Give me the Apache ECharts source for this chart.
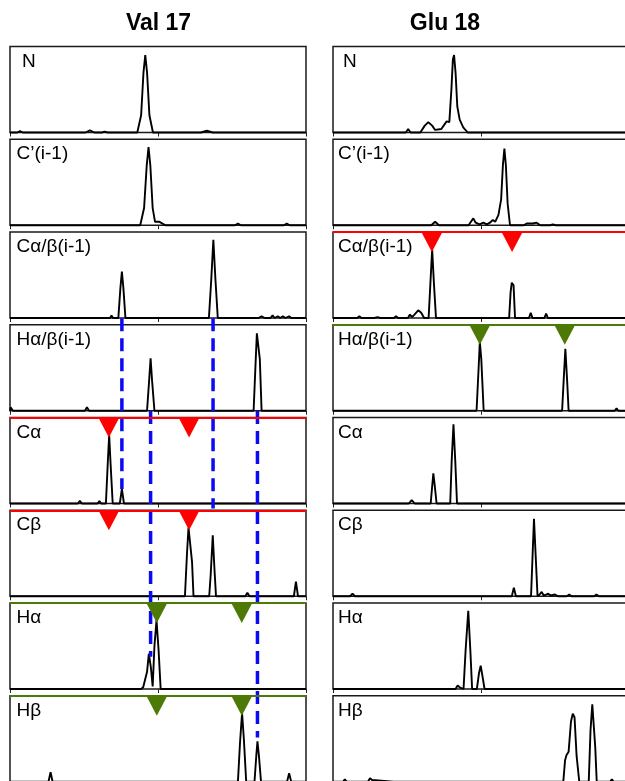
<!DOCTYPE html>
<html><head><meta charset="utf-8">
<script src="https://cdn.jsdelivr.net/npm/echarts@6/dist/echarts.min.js"></script>
<style>html,body{margin:0;padding:0;background:#fff}#c{width:625px;height:781px}</style>
</head><body><div id="c"></div>
<script>
// ---------- data ----------
const columnTitles = ['Val 17', 'Glu 18'];
const panelLabels = ['N', 'C\u2019(i-1)', 'C\u03b1/\u03b2(i-1)', 'H\u03b1/\u03b2(i-1)', 'C\u03b1', 'C\u03b2', 'H\u03b1', 'H\u03b2'];

// Val 17 strips  [shift (0-100), intensity (0-100)]
const valN = [[0,0],[2.5,0],[3.4,1.5],[4.3,0],[10,0],[10.5,1],[11,0],[17.5,0],[18,1],[18.5,0],[25.5,0],[27,2.5],[28.5,0],[31,0],[32,1],[33,0],[35.5,0],[36,1],[36.5,0],[43,0],[44.3,20],[45.1,70],[45.7,90],[46.3,70],[47.1,20],[48.3,0],[64.5,0],[66.5,2],[68.5,0],[76,0],[76.5,1],[77,0],[100,0]];
const valC1 = [[0,0],[44,0],[45.3,20],[46.2,70],[46.8,91],[47.4,70],[48.2,20],[49,4],[50.5,4],[52.5,0],[64.5,0],[65,1],[65.5,0],[76,0],[77,2],[78,0],[85.5,0],[86,1],[86.5,0],[92.5,0],[93.5,2],[94.5,0],[100,0]];
const valCab = [[0,0],[19,0],[19.6,1],[20.2,0],[33.8,0],[34.3,3],[34.8,0],[36.6,0],[37.3,35],[37.8,54],[38.3,35],[39,0],[56.3,0],[56.8,2],[57.3,0],[67.2,0],[68,45],[68.7,91],[69.4,45],[70.2,0],[72.5,0],[73,2],[73.5,0],[84,0],[85,2],[86,0],[88,0],[88.7,3],[89.4,0],[90.5,2],[91.3,0],[92.2,2],[93,0],[94.3,2],[95,0],[100,0]];
const valHab = [[0,0],[0.2,4],[1,0],[9.6,0],[10.1,2],[10.6,0],[25.3,0],[26,4],[26.7,0],[46.3,0],[47,35],[47.5,61],[48,35],[48.8,0],[82.3,0],[82.9,50],[83.4,90],[83.8,91],[84.4,60],[85,0],[100,0]];
const valCa = [[0,0],[22.9,0],[23.6,3],[24.3,0],[26.4,0],[27,2],[27.6,0],[29.6,0],[30.2,3],[30.8,0],[32.4,0],[33,45],[33.5,80],[34,45],[34.7,0],[37.1,0],[37.8,17],[38.5,0],[100,0]];
const valCb = [[0,0],[59.1,0],[59.8,50],[60.3,80],[60.8,78],[61.5,40],[62,0],[67.3,0],[67.8,25],[68.5,71],[69.1,30],[69.6,0],[79.5,0],[80.2,4],[80.9,0],[95.9,0],[96.6,17],[97.3,0],[100,0]];
const valHa = [[0,0],[44.3,0],[45,2],[45.6,1],[46.3,20],[46.9,41],[47.6,25],[48.2,3],[48.8,50],[49.5,80],[50.2,45],[50.9,0],[100,0]];
const valHb = [[0,0],[13,0],[13.7,11],[14.4,0],[77,0],[77.7,45],[78.4,80],[79,50],[79.8,0],[82.6,0],[83.2,30],[83.6,47],[84.1,30],[84.8,0],[93.6,0],[94.3,10],[95,0],[100,0]];

// Glu 18 strips
const gluN = [[0,0],[24.6,0],[25.4,4],[26.2,0],[29.5,0],[31,8],[32.2,12],[33.5,8],[34.5,3],[36.6,4],[37.8,10],[38.4,13],[39.3,12],[40,50],[40.5,85],[40.9,90],[41.4,70],[42,30],[42.8,15],[44,6],[45.5,0],[55,0],[55.5,2],[56,0],[100,0]];
const gluC1 = [[0,0],[33.2,0],[34.5,4],[35.8,0],[45.8,0],[46.6,4],[47.4,8],[48.2,3],[49.5,1],[50.8,3],[52,1],[53,3],[54,6],[54.8,4],[55.9,12],[56.8,30],[57.4,70],[57.9,89],[58.4,70],[59,25],[59.8,0],[64.5,0],[65.4,2],[66.5,2],[67.5,2],[68.8,3],[70,0],[73.4,0],[74.3,1],[75.2,0],[100,0]];
const gluCab = [[0,0],[8.2,0],[8.9,2],[9.6,0],[14,0],[15,1],[16,0],[20.6,0],[21.3,2],[22,0],[25.3,0],[26,4],[26.7,1],[27.5,4],[28.8,9],[29.8,6],[30.8,0],[32.3,0],[32.9,40],[33.5,80],[34.1,40],[34.8,0],[59.5,0],[60,30],[60.4,41],[61,38],[61.5,0],[66.2,0],[66.8,6],[67.4,0],[71.4,0],[72,5],[72.6,0],[88.4,0],[89,1],[89.6,0],[100,0]];
const gluHab = [[0,0],[9.2,0],[9.7,1],[10.2,0],[48.5,0],[49.2,50],[49.6,80],[50.1,60],[50.9,0],[77.4,0],[78,40],[78.5,72],[79.1,35],[79.6,0],[95.2,0],[95.8,3],[96.4,0],[100,0]];
const gluCa = [[0,0],[17.8,0],[18.3,1],[18.8,0],[25.6,0],[26.6,4],[27.6,0],[33,0],[33.5,20],[33.9,35],[34.4,20],[35,0],[39.6,0],[40.1,50],[40.7,92],[41.3,50],[41.9,0],[94.4,0],[95,2],[95.6,0],[100,0]];
const gluCb = [[0,0],[5.8,0],[6.6,3],[7.4,0],[60.4,0],[61.1,10],[61.8,0],[66.9,0],[67.4,45],[67.9,90],[68.5,45],[69.1,0],[69.8,2],[70.5,5],[71.2,1],[72,2],[72.7,3],[73.5,1],[75,2],[76,0],[79,0],[79.8,2],[80.6,0],[88.2,0],[89,2],[89.8,0],[100,0]];
const gluHa = [[0,0],[7.8,0],[8.3,1],[8.8,0],[41.4,0],[42.1,4],[42.8,2],[44.1,0],[44.8,45],[45.7,91],[46.4,45],[47,0],[48.6,0],[49.3,18],[49.9,27],[50.5,15],[51.2,0],[100,0]];
const gluHb = [[0,0],[3.4,0],[4,3],[4.6,0],[11.8,0],[12.5,4],[13.2,2],[13.8,0],[20.4,0],[21,2],[21.6,0],[77.8,0],[78.4,25],[78.9,31],[79.6,35],[80.4,70],[81,79],[81.6,75],[82.3,30],[83.2,0],[86.4,0],[87,60],[87.6,90],[88.1,88],[88.6,40],[89.1,0],[93.6,0],[94.2,3],[94.8,0],[100,0]];

const valStrips = [valN, valC1, valCab, valHab, valCa, valCb, valHa, valHb];
const gluStrips = [gluN, gluC1, gluCab, gluHab, gluCa, gluCb, gluHa, gluHb];

// triangle markers (shift positions)
const redMarks = [33.4, 60.5];
const greenMarks = [49.6, 78.3];
// which strips carry markers: [column, row, kind]
const markedStrips = [[0,4,'red'],[0,5,'red'],[0,6,'green'],[0,7,'green'],[1,2,'red'],[1,3,'green']];

// blue dashed connectors in Val 17 column: shift, from row-position, to row-position
const dashX = [37.8, 47.5, 68.6, 83.6];
const dashFrom = [2.93, 3.93, 2.93, 3.93];
const dashTo = [4.77, 6.58, 4.98, 7.45];

// ---------- layout ----------
const colLeft = [10, 333];
const colWidth = 296;
const top0 = 46.5, pitch = 92.75, panelH = 86;
const RED = '#ff0000', GREEN = '#4d7a06', BLUE = '#0a0af5';
const FONT = '"Liberation Sans", Arial, sans-serif';

const grids = [], xAxes = [], yAxes = [], series = [], graphics = [];
const columns = [valStrips, gluStrips];
columns.forEach((strips, c) => {
  strips.forEach((data, r) => {
    const gi = grids.length;
    grids.push({left: colLeft[c], width: colWidth, top: top0 + r * pitch, height: panelH,
      outerBoundsMode: 'none', containLabel: false,
      show: true, borderColor: '#1a1a1a', borderWidth: 1.5, backgroundColor: 'transparent'});
    xAxes.push({gridIndex: gi, type: 'value', min: 0, max: 100, interval: 50,
      axisLine: {show: false}, splitLine: {show: false}, axisLabel: {show: false},
      axisTick: {show: true, length: 4, lineStyle: {color: '#222', width: 1}}});
    yAxes.push({gridIndex: gi, type: 'value', min: 0, max: 100, show: false});
    const mk = markedStrips.find(m => m[0] === c && m[1] === r);
    const s = {type: 'line', xAxisIndex: gi, yAxisIndex: gi, data: data, symbol: 'none',
      clip: false, lineStyle: {color: '#000', width: 1.9}, z: 2, silent: true, animation: false};
    if (mk) {
      const col = mk[2] === 'red' ? RED : GREEN;
      s.markLine = {symbol: 'none', silent: true, animation: false, label: {show: false},
        lineStyle: {color: col, width: 2, type: 'solid'}, data: [{yAxis: 100}]};
      const xs = mk[2] === 'red' ? redMarks : greenMarks;
      series.push({type: 'scatter', xAxisIndex: gi, yAxisIndex: gi, data: xs.map(x => [x, 100]),
        symbol: 'path://M0,0L20,0L10,20Z', symbolSize: [21, 20], symbolOffset: [0, 10],
        itemStyle: {color: col, opacity: 1}, z: 5, clip: false, silent: true, animation: false});
    }
    series.push(s);
    graphics.push({type: 'text', x: colLeft[c] + (c === 0 ? (r === 0 ? 12 : 6.5) : (r === 0 ? 10 : 5)),
      y: top0 + r * pitch + 5.5,
      style: {text: panelLabels[r], font: '19px ' + FONT, fill: '#000', textVerticalAlign: 'top'}, z: 10});
  });
  graphics.push({type: 'text', x: colLeft[c] + (c === 0 ? 148.5 : 112), y: 24,
    style: {text: columnTitles[c], font: 'bold 23px ' + FONT, fill: '#000', textAlign: 'center', textVerticalAlign: 'middle'}, z: 10});
});

// overlay grid for connectors (rows units)
const og = grids.length;
grids.push({left: colLeft[0], width: colWidth, top: top0, height: 8 * pitch, show: false,
  outerBoundsMode: 'none', containLabel: false});
xAxes.push({gridIndex: og, type: 'value', min: 0, max: 100, show: false});
yAxes.push({gridIndex: og, type: 'value', min: 0, max: 8, inverse: true, show: false});
dashX.forEach((x, i) => {
  series.push({type: 'line', xAxisIndex: og, yAxisIndex: og, data: [[x, dashFrom[i]], [x, dashTo[i]]],
    symbol: 'none', clip: false, silent: true, animation: false, z: 4,
    lineStyle: {color: BLUE, width: 3.5, type: [13, 7]}});
});

const chart = echarts.init(document.getElementById('c'), null, {renderer: 'canvas'});
chart.setOption({animation: false, grid: grids, xAxis: xAxes, yAxis: yAxes, series: series, graphic: graphics});
</script></body></html>
